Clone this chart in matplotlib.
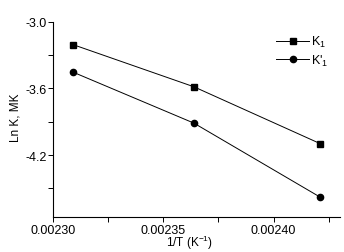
import numpy as np
import matplotlib
matplotlib.use("Agg")
import matplotlib.pyplot as plt
from matplotlib.ticker import MultipleLocator

plt.rcParams["font.family"] = ["Liberation Sans", "DejaVu Sans"]
plt.rcParams["mathtext.default"] = "regular"

# 1/T values (K^-1) and ln K for the two constants
inv_T  = [0.0023094, 0.0023639, 0.0024212]
lnK1   = [-3.207, -3.585, -4.098]
lnK1p  = [-3.455, -3.912, -4.580]

labels = [r"K$_1$", r"K$'_1$"]

fig = plt.figure(figsize=(3.44, 2.53), dpi=100)
ax = fig.add_axes([0.1532, 0.137, 0.835, 0.773])

ax.plot(inv_T, lnK1,  "-s", color="black", lw=0.7, ms=4.5, mfc="black", label=labels[0])
ax.plot(inv_T, lnK1p, "-o", color="black", lw=0.7, ms=4.5, mfc="black", label=labels[1])

ax.set_xlim(0.00230, 0.00243)
ax.set_ylim(-4.76, -3.0)
ax.xaxis.set_major_locator(MultipleLocator(0.00005))
ax.xaxis.set_minor_locator(MultipleLocator(0.000025))
ax.yaxis.set_major_locator(MultipleLocator(0.6))
ax.yaxis.set_minor_locator(MultipleLocator(0.3))
ax.xaxis.set_major_formatter(matplotlib.ticker.FormatStrFormatter("%.5f"))
ax.yaxis.set_major_formatter(matplotlib.ticker.FormatStrFormatter("%.1f"))

for s in ["top", "right"]:
    ax.spines[s].set_visible(False)
for s in ["left", "bottom"]:
    ax.spines[s].set_linewidth(0.8)

ax.tick_params(which="both", direction="out", length=3.5, width=0.7, labelsize=9, pad=1)

ax.set_xlabel(r"1/T (K$^{-1}$)", fontsize=8.5, va="center")
ax.xaxis.set_label_coords(0.478, -0.128)
ax.set_ylabel("Ln K, MK", fontsize=8.5, va="center")
ax.yaxis.set_label_coords(-0.131, 0.513)

ax.legend(loc="upper right", bbox_to_anchor=(1.0, 0.995), frameon=False, fontsize=9,
          handlelength=2.6, handletextpad=0.2, labelspacing=0.3)

fig.savefig("out.png", dpi=100)
